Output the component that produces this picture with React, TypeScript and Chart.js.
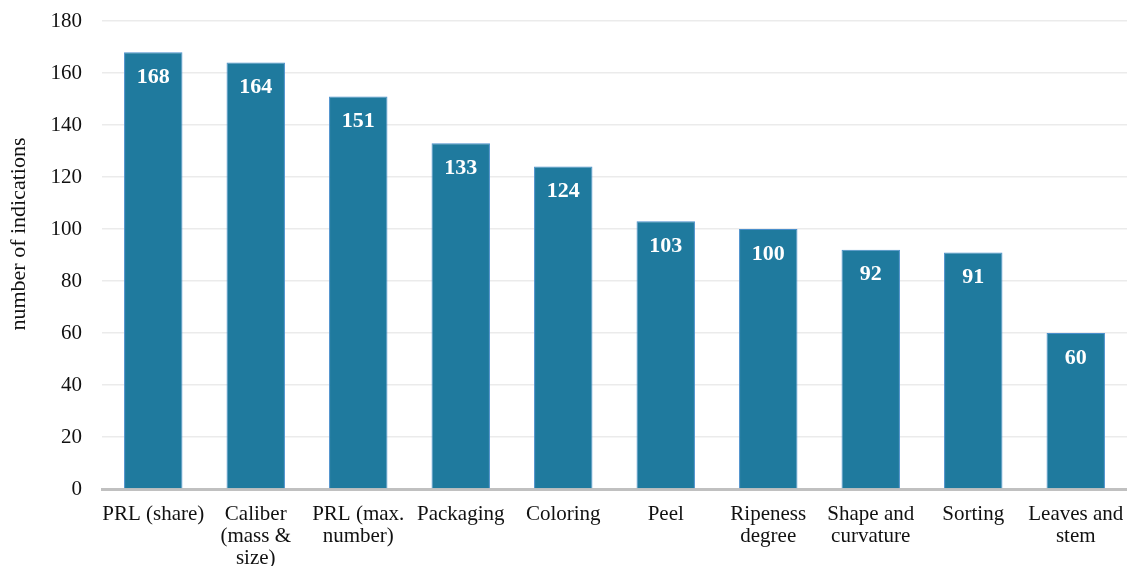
import React, { useEffect, useRef } from "react";
import { Chart, registerables } from "chart.js";

Chart.register(...registerables);

const categories: string[][] = [
  ["PRL (share)"],
  ["Caliber", "(mass &", "size)"],
  ["PRL (max.", "number)"],
  ["Packaging"],
  ["Coloring"],
  ["Peel"],
  ["Ripeness", "degree"],
  ["Shape and", "curvature"],
  ["Sorting"],
  ["Leaves and", "stem"],
];
const values: number[] = [168, 164, 151, 133, 124, 103, 100, 92, 91, 60];
const yTitle = "number of indications";

const FONT = "'Liberation Serif', 'Times New Roman', serif";

const valueLabels = {
  id: "valueLabels",
  afterDatasetsDraw(chart: any) {
    const ctx = chart.ctx;
    const meta = chart.getDatasetMeta(0);
    ctx.save();
    ctx.fillStyle = "#ffffff";
    ctx.font = `bold 22px ${FONT}`;
    ctx.textAlign = "center";
    ctx.textBaseline = "middle";
    meta.data.forEach((bar: any, i: number) => {
      ctx.fillText(String(values[i]), bar.x, bar.y + 25);
    });
    ctx.restore();
  },
};

const yTitlePlugin = {
  id: "yTitlePlugin",
  afterDraw(chart: any) {
    const ctx = chart.ctx;
    ctx.save();
    ctx.fillStyle = "#111";
    ctx.font = `22px ${FONT}`;
    ctx.textAlign = "center";
    ctx.textBaseline = "middle";
    ctx.translate(19, 234);
    ctx.rotate(-Math.PI / 2);
    ctx.fillText(yTitle, 0, 0);
    ctx.restore();
  },
};

export default function App() {
  const ref = useRef<HTMLCanvasElement>(null);
  useEffect(() => {
    if (!ref.current) return;
    const chart = new Chart(ref.current, {
      type: "bar",
      data: {
        labels: categories,
        datasets: [
          {
            data: values,
            backgroundColor: "#1f7a9e",
            borderColor: "#4a8fcc",
            borderWidth: { top: 1, left: 1, right: 1, bottom: 0 },
            categoryPercentage: 1,
            barPercentage: 0.57,
          },
        ],
      },
      options: {
        animation: false,
        responsive: false,
        maintainAspectRatio: false,
        layout: { padding: { top: 21, right: -2, left: 0, bottom: 0 } },
        plugins: {
          legend: { display: false },
          tooltip: { enabled: false },
        },
        scales: {
          x: {
            grid: { display: false, drawTicks: false },
            border: { display: true, color: "#c0c0c0", width: 3 },
            ticks: {
              color: "#111",
              font: { family: FONT, size: 21, lineHeight: "22px" },
              padding: 14,
              maxRotation: 0,
              autoSkip: false,
            },
            afterFit(scale: any) {
              scale.height = 77;
              scale.paddingLeft = 0;
              scale.paddingRight = 0;
            },
          },
          y: {
            min: 0,
            max: 180,
            ticks: {
              stepSize: 20,
              color: "#111",
              font: { family: FONT, size: 21 },
              padding: 0,
            },
            grid: {
              color: "#ebebeb",
              lineWidth: 1.5,
              drawTicks: true,
              tickLength: 20,
              tickColor: "rgba(0,0,0,0)",
            },
            border: { display: false },
            afterFit(scale: any) {
              scale.width = 102;
              scale.paddingTop = 0;
              scale.paddingBottom = 0;
            },
          },
        },
      },
      plugins: [valueLabels, yTitlePlugin],
    });
    return () => chart.destroy();
  }, []);
  return (
    <div style={{ position: "fixed", left: 0, top: 0, width: 1127, height: 566, background: "#fff" }}>
      <canvas ref={ref} width={1127} height={566} />
    </div>
  );
}
